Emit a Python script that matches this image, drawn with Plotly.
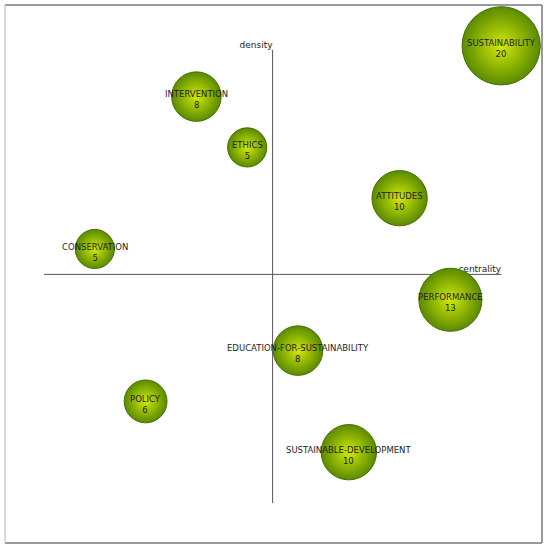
import numpy as np
import plotly.graph_objects as go

# keywords, placed by rank of centrality (x) and density (y)
themes = ["SUSTAINABILITY", "INTERVENTION", "ETHICS", "ATTITUDES", "CONSERVATION",
          "PERFORMANCE", "EDUCATION-FOR-SUSTAINABILITY", "POLICY", "SUSTAINABLE-DEVELOPMENT"]
centrality_rank = [9, 3, 4, 7, 1, 8, 5, 2, 6]
density_rank = [9, 8, 7, 6, 5, 4, 3, 2, 1]
documents = [20, 8, 5, 10, 5, 13, 8, 6, 10]

W, H = 549, 550
px_per_unit = 50.8
x0_px, y0_px = 44, 503  # where rank 0 sits on the page

xr = [-x0_px / px_per_unit, (W - x0_px) / px_per_unit]
yr = [-(H - y0_px) / px_per_unit, y0_px / px_per_unit]

# axes cross in the middle of the 0..9 rank span
mid_x = max(centrality_rank) / 2
mid_y = max(density_rank) / 2
top_y = max(density_rank) - 0.08

fig = go.Figure()

# axis names go under the bubbles (performance covers part of "centrality")
fig.add_trace(go.Scatter(
    x=[mid_x, max(centrality_rank)], y=[top_y, mid_y],
    mode="text", text=["density", "centrality"],
    textposition=["top left", "top left"],
    textfont=dict(family="DejaVu Sans", size=9, color="#222222"),
    hoverinfo="skip", showlegend=False,
))

fig.add_trace(go.Scatter(
    x=centrality_rank, y=density_rank,
    mode="markers",
    marker=dict(
        size=[17.5 * np.sqrt(n) for n in documents],
        color="#5a8a00",
        gradient=dict(type="radial", color="#d2ea08"),
        line=dict(color="#466e00", width=1),
        opacity=1,
    ),
    text=[f"{t}<br>{n}" for t, n in zip(themes, documents)],
    hoverinfo="text",
    showlegend=False,
))

# bubble labels sit a touch below the centre
for t, n, cx, cy in zip(themes, documents, centrality_rank, density_rank):
    fig.add_annotation(x=cx, y=cy, text=f"{t}<br>{n}", showarrow=False,
                       xanchor="center", yanchor="middle", yshift=-3,
                       font=dict(family="DejaVu Sans", size=8.5, color="#1e1e1e"))

# the two strategic-diagram axes
fig.add_shape(type="line", x0=0, x1=max(centrality_rank), y0=mid_y, y1=mid_y,
              line=dict(color="#555555", width=1), layer="below")
fig.add_shape(type="line", x0=mid_x, x1=mid_x, y0=0, y1=top_y,
              line=dict(color="#555555", width=1), layer="below")

# frame around the picture
bx0, bx1 = 5 / W, 542 / W
by0, by1 = 1 - 543 / H, 1 - 5 / H
fig.add_shape(type="line", xref="paper", yref="paper", x0=bx0, x1=bx1, y0=by1, y1=by1,
              line=dict(color="#777777", width=1.5))
fig.add_shape(type="line", xref="paper", yref="paper", x0=bx0, x1=bx1, y0=by0, y1=by0,
              line=dict(color="#777777", width=1.5))
fig.add_shape(type="line", xref="paper", yref="paper", x0=bx1, x1=bx1, y0=by0, y1=by1,
              line=dict(color="#777777", width=1.5))
fig.add_shape(type="line", xref="paper", yref="paper", x0=bx0, x1=bx0, y0=by0, y1=by1,
              line=dict(color="#cccccc", width=1.5))

fig.update_layout(
    width=W, height=H,
    margin=dict(l=0, r=0, t=0, b=0),
    paper_bgcolor="white", plot_bgcolor="white",
    xaxis=dict(range=xr, visible=False, fixedrange=True),
    yaxis=dict(range=yr, visible=False, fixedrange=True),
)

# drop the default page margin so the figure sits at the window corner
fig.write_html("out.html", config={"displayModeBar": False},
               post_script="document.body.style.margin='0';")
